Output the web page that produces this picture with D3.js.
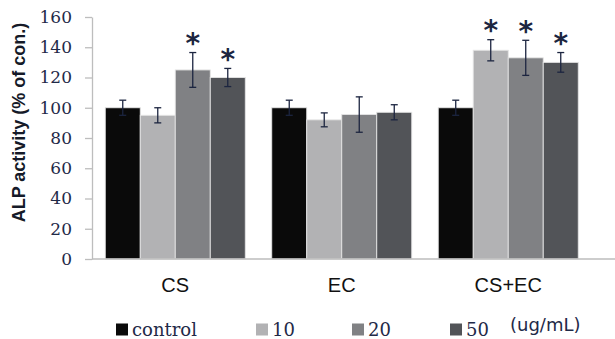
<!DOCTYPE html>
<html>
<head>
<meta charset="utf-8">
<script src="https://cdn.jsdelivr.net/npm/d3@7/dist/d3.min.js"></script>
<style>
  html, body { margin: 0; padding: 0; background: #fff; }
  svg { display: block; }
</style>
</head>
<body>
<svg id="chart" width="615" height="339"></svg>
<script>
// ---- data ----
const categories = ["CS", "EC", "CS+EC"];
const seriesNames = ["control", "10", "20", "50"];
const seriesColors = ["#0a0a0a", "#b2b2b4", "#808184", "#525458"];
// values per series, indexed by category
const valControl = [100, 100, 100];
const val10      = [95, 92, 138];
const val20      = [125, 95.5, 133];
const val50      = [120, 97, 130];
// error bar half-widths
const errControl = [5, 5, 5];
const err10      = [5, 4.6, 7];
const err20      = [11.5, 11.7, 11.6];
const err50      = [6, 5, 6.5];
// significance marks
const sigControl = [false, false, false];
const sig10      = [false, false, true];
const sig20      = [true, false, true];
const sig50      = [true, false, true];
const yTicks = [0, 20, 40, 60, 80, 100, 120, 140, 160];
const yTitle = "ALP activity (% of con.)";
const unitLabel = "(ug/mL)";

(function () {
const values = [valControl, val10, val20, val50];
const errors = [errControl, err10, err20, err50];
const sigs = [sigControl, sig10, sig20, sig50];

const svg = d3.select("#chart");
const mLeft = 92, mRight = 591.5, mTop = 17, mBottom = 259;

const x0 = d3.scaleBand().domain(categories).range([mLeft, mRight])
  .paddingInner(0.159).paddingOuter(0.0796);
const x1 = d3.scaleBand().domain(seriesNames).range([0, x0.bandwidth()]);
const y = d3.scaleLinear().domain([0, 160]).range([mBottom, mTop]);

// y axis
const yAxis = d3.axisLeft(y).tickValues(yTicks).tickSizeOuter(0).tickSizeInner(7).tickPadding(13);
const gy = svg.append("g").attr("transform", `translate(${mLeft},0)`).call(yAxis);
gy.select(".domain").attr("stroke", "#bdbdbd").attr("stroke-width", 1.3);
gy.selectAll(".tick line").attr("stroke", "#bdbdbd").attr("stroke-width", 1.3);
gy.selectAll(".tick text")
  .attr("font-family", "DejaVu Serif").attr("font-size", 17).attr("fill", "#1f2a48");

// bars
const flat = [];
categories.forEach((c, ci) => {
  seriesNames.forEach((s, si) => {
    flat.push({cat: c, ser: s, si, v: values[si][ci], e: errors[si][ci], sig: sigs[si][ci]});
  });
});

svg.append("g").selectAll("rect").data(flat).join("rect")
  .attr("x", d => x0(d.cat) + x1(d.ser))
  .attr("y", d => y(d.v))
  .attr("width", x1.bandwidth())
  .attr("height", d => y(0) - y(d.v))
  .attr("fill", d => seriesColors[d.si])
  .attr("stroke", "#e4e4e4").attr("stroke-width", 0.9);

// x axis line
svg.append("line").attr("x1", mLeft).attr("x2", 615).attr("y1", mBottom).attr("y2", mBottom)
  .attr("stroke", "#bdbdbd").attr("stroke-width", 1.5);

// error bars
const eg = svg.append("g").attr("stroke", "#1c2540").attr("stroke-width", 1.3);
flat.forEach(d => {
  const cx = x0(d.cat) + x1(d.ser) + x1.bandwidth() / 2;
  const yt = y(d.v + d.e), yb = y(d.v - d.e);
  eg.append("line").attr("x1", cx).attr("x2", cx).attr("y1", yt).attr("y2", yb);
  eg.append("line").attr("x1", cx - 3.5).attr("x2", cx + 3.5).attr("y1", yt).attr("y2", yt);
  eg.append("line").attr("x1", cx - 3.5).attr("x2", cx + 3.5).attr("y1", yb).attr("y2", yb);
});

// significance asterisks
svg.append("g").selectAll("text").data(flat.filter(d => d.sig)).join("text")
  .attr("x", d => x0(d.cat) + x1(d.ser) + x1.bandwidth() / 2)
  .attr("y", d => y(d.v + d.e) - 16 + 16.5)
  .attr("text-anchor", "middle")
  .attr("font-family", "DejaVu Sans").attr("font-weight", "bold").attr("font-size", 28)
  .attr("fill", "#1c2540")
  .text("*");

// category labels
svg.append("g").selectAll("text").data(categories).join("text")
  .attr("x", d => x0(d) + x0.bandwidth() / 2)
  .attr("y", 292)
  .attr("text-anchor", "middle")
  .attr("font-family", "Liberation Sans").attr("font-size", 20).attr("fill", "#111")
  .text(d => d);

// y title
svg.append("text")
  .attr("transform", `translate(25,${(22 + 223) / 2}) rotate(-90)`)
  .attr("text-anchor", "middle")
  .attr("font-family", "Liberation Sans").attr("font-weight", "bold")
  .attr("font-size", 18).attr("fill", "#151a28")
  .text(yTitle);

// legend
const legendX = [116, 256, 352, 450];
const lg = svg.append("g");
seriesNames.forEach((s, i) => {
  lg.append("rect").attr("x", legendX[i]).attr("y", 323.5).attr("width", 12).attr("height", 12)
    .attr("fill", seriesColors[i]);
  lg.append("text").attr("x", legendX[i] + 16).attr("y", 336)
    .attr("font-family", "DejaVu Serif").attr("font-size", 18).attr("fill", "#1f2a48")
    .text(s);
});
lg.append("text").attr("x", 510).attr("y", 331)
  .attr("font-family", "DejaVu Sans").attr("font-size", 18).attr("fill", "#1f2a48")
  .text(unitLabel);
})();
</script>
</body>
</html>
